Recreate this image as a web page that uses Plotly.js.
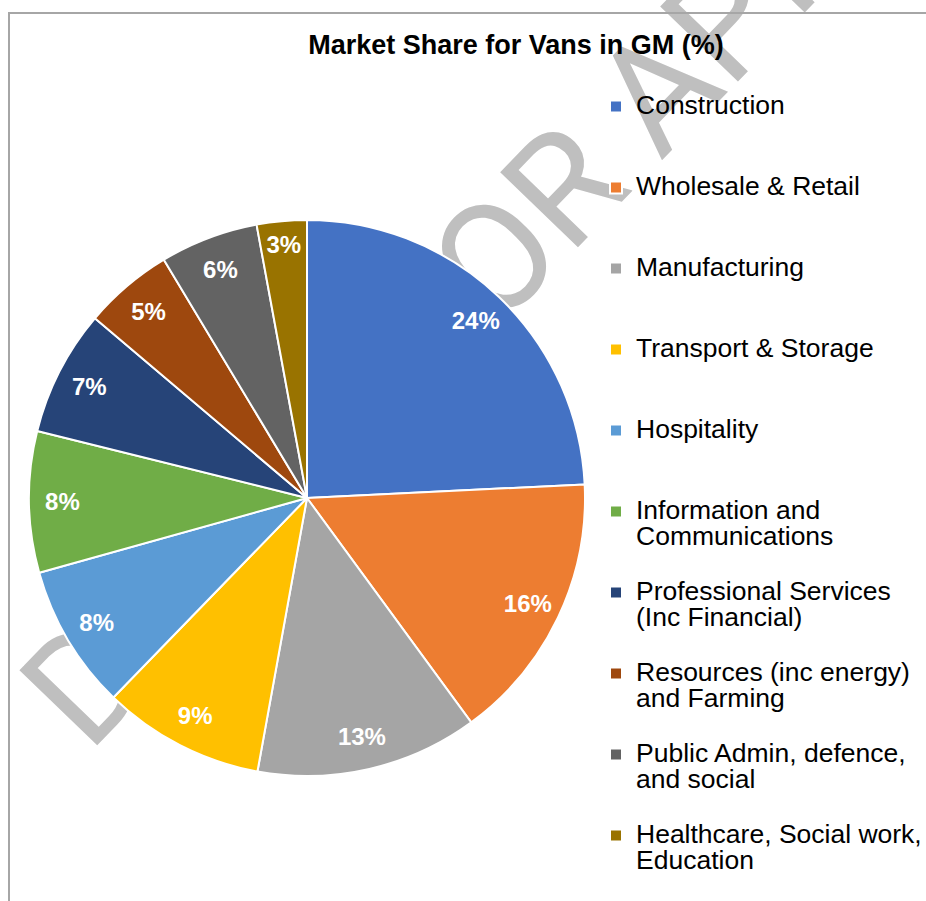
<!DOCTYPE html>
<html><head><meta charset="utf-8">
<script src="https://cdn.plot.ly/plotly-3.0.1.min.js"></script>
<style>html,body{margin:0;padding:0;background:#fff;} #chart{width:926px;height:901px;}</style>
</head><body><div id="chart"></div>
<script>
const categories = ['Construction', 'Wholesale & Retail', 'Manufacturing', 'Transport & Storage', 'Hospitality',
  'Information and<br>Communications', 'Professional Services<br>(Inc Financial)', 'Resources (inc energy)<br>and Farming',
  'Public Admin, defence,<br>and social', 'Healthcare, Social work,<br>Education'];
const shares = [24.2, 15.7, 12.9, 9.4, 8.4, 8.2, 7.3, 5.2, 5.7, 2.9];
const sliceColors = ['#4472C4', '#ED7D31', '#A5A5A5', '#FFC000', '#5B9BD5', '#70AD47', '#264478', '#9E480E', '#636363', '#997300'];
const chartTitle = 'Market Share for Vans in GM (%)';
const watermarkText = 'DRAFT FOR APPROVAL';

const FONT = 'Liberation Sans, Arial, sans-serif';
const W = 926, H = 901;
const px = v => v / W, py = v => 1 - v / H;

function legendLabel(label) {
  const lines = label.split('<br>');
  while (lines.length < 3) lines.push('\u00a0');
  return lines.map(l => '<span style="font-size:26.5px">' + l + '</span>').join('<br>');
}
const labels = categories.map(legendLabel);

const domain = {x: [px(29), px(585)], y: [py(776), py(220)]};

const pieTrace = {
  type: 'pie', values: shares, labels: labels, sort: false, direction: 'clockwise', rotation: 0,
  domain: domain, marker: {colors: sliceColors, line: {color: '#ffffff', width: 2}},
  textinfo: 'none', hoverinfo: 'label+percent', showlegend: true
};
const labelTrace = {
  type: 'pie', values: shares, labels: labels, sort: false, direction: 'clockwise', rotation: 0,
  domain: domain, hole: 0.76, showlegend: false, hoverinfo: 'skip',
  marker: {colors: shares.map(() => 'rgba(0,0,0,0)'), line: {width: 0}},
  texttemplate: '%{percent:.0%}', textposition: 'inside', insidetextorientation: 'horizontal',
  insidetextfont: {family: FONT, size: 24, color: '#ffffff', weight: 'bold'}
};

// watermark centre line (pixel space), angle about -46 deg
const wmCx = 593, wmCy = 141, wmHalf = 300, wmAng = -46 * Math.PI / 180;
const wmDx = Math.cos(wmAng) * wmHalf, wmDy = Math.sin(wmAng) * wmHalf;

const layout = {
  width: W, height: H, margin: {l: 0, r: 0, t: 0, b: 0, autoexpand: false},
  paper_bgcolor: '#ffffff', plot_bgcolor: '#ffffff',
  title: {text: chartTitle, font: {family: FONT, size: 27, weight: 'bold', color: '#000000'},
    x: px(516), xref: 'paper', xanchor: 'center', y: py(45), yref: 'paper', yanchor: 'middle'},
  showlegend: true,
  legend: {x: px(596), xanchor: 'left', y: py(87), yanchor: 'top', valign: 'top',
    font: {family: FONT, size: 20, color: '#000000'}, bgcolor: 'rgba(0,0,0,0)', borderwidth: 0, tracegroupgap: 0},
  shapes: [
    {type: 'line', xref: 'paper', yref: 'paper',
      x0: px(wmCx - wmDx), y0: py(wmCy - wmDy), x1: px(wmCx + wmDx), y1: py(wmCy + wmDy),
      line: {color: 'rgba(0,0,0,0)', width: 1}, layer: 'below',
      label: {text: watermarkText, font: {family: 'Roboto, sans-serif', size: 152, color: '#bfbfbf'},
        textposition: 'middle', yanchor: 'middle', textangle: 'auto'}},
    {type: 'rect', xref: 'paper', yref: 'paper', x0: px(9), x1: 1.05, y0: -0.05, y1: py(13),
      line: {color: '#a6a6a6', width: 2}, fillcolor: 'rgba(0,0,0,0)', layer: 'below'}
  ]
};

Plotly.newPlot('chart', [pieTrace, labelTrace], layout, {displayModeBar: false, staticPlot: true});
</script>
</body></html>
